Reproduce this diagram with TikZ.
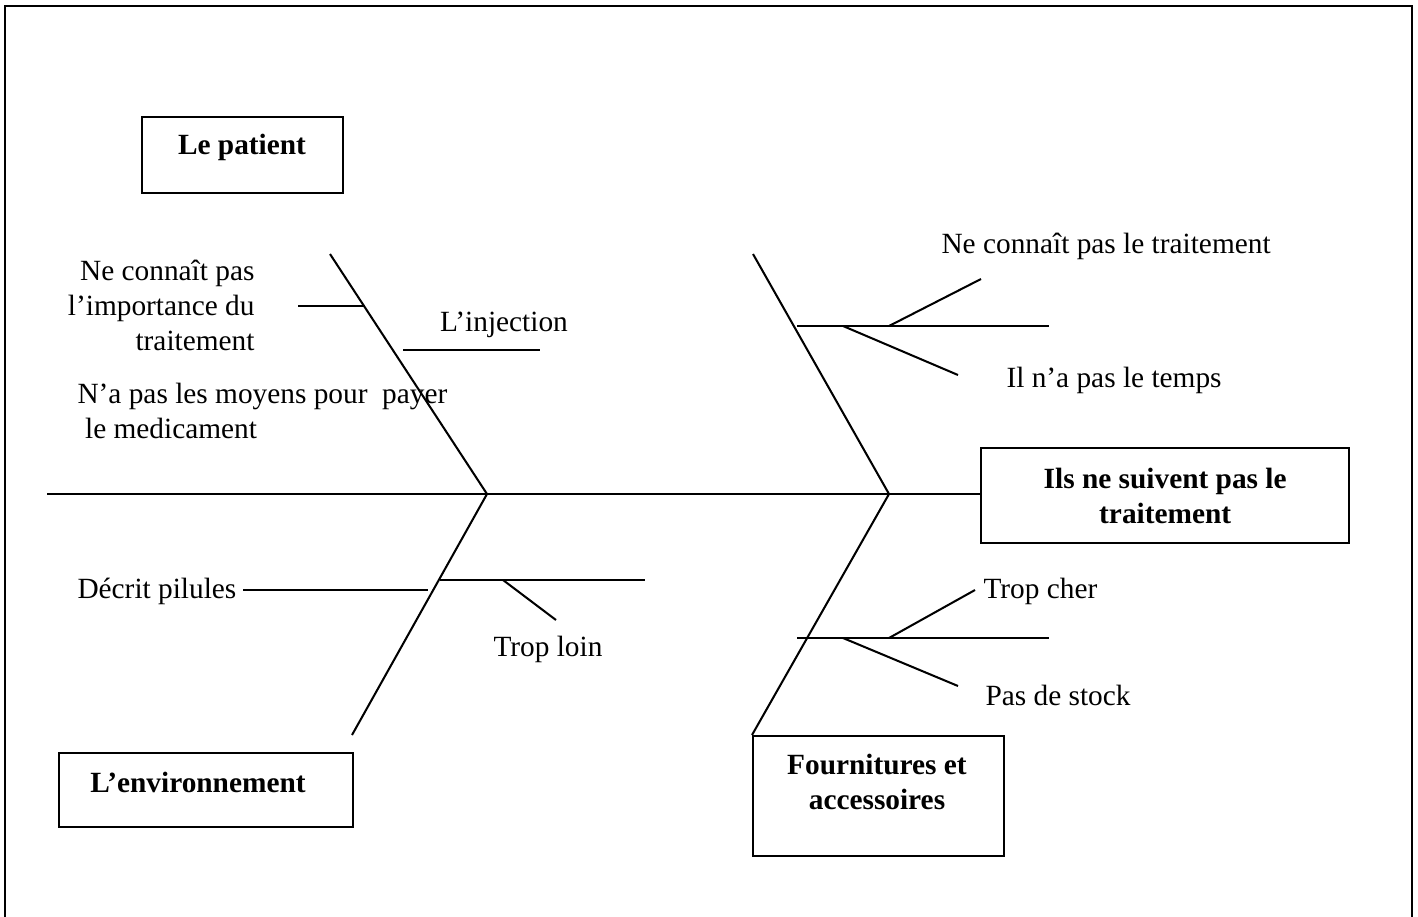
\documentclass[tikz,border=0pt]{standalone}
\usepackage{fontspec}
\setmainfont{Liberation Serif}
\usetikzlibrary{calc}
\begin{document}
\begin{tikzpicture}[x=0.3937pt,y=-0.3937pt,
  box/.style={draw, line width=0.9pt, inner sep=0, anchor=north west},
  txt/.style={inner sep=0, font=\fontsize{11.55}{13.8}\selectfont},
  btxt/.style={inner sep=0, font=\fontsize{11.55}{13.8}\selectfont\bfseries, align=center},
  bone/.style={line width=0.8pt}]
\useasboundingbox (0,0) rectangle (1418,916);
\draw[line width=0.9pt] (5,930) -- (5,6) -- (1412,6) -- (1412,930);

% boxes
\node[box, minimum width=79.13pt, minimum height=29.92pt] (patient) at (141,116) {};
\node[btxt] (patientlbl) at (242,147) {Le patient};
\node[box, minimum width=144.9pt, minimum height=37.4pt, align=center,
      font=\fontsize{11.55}{13.8}\selectfont\bfseries] (effect) at (980,447) {Ils ne suivent pas le\\traitement};
\node[box, minimum width=115.7pt, minimum height=29.1pt] (env) at (58,752) {};
\node[btxt] (envlbl) at (198,782) {L’environnement};
\node[box, minimum width=98.8pt, minimum height=47.2pt] (fourn) at (752,735) {};
\node[btxt] (fournlbl) at (877,782) {Fournitures et\\accessoires};

% spine and bones
\coordinate (tail) at (47,494);
\coordinate (mid) at (487,494);
\coordinate (head) at (889,494);
\coordinate (ulend) at (330,254);
\coordinate (llend) at (352,735);
\coordinate (urend) at (753,254);
\draw[bone] (tail) -- (mid) -- (head) -- (head -| effect.west);
\draw[bone] (ulend) -- (mid);
\draw[bone] (mid) -- (llend);
\draw[bone] (urend) -- (head);
\draw[bone] (head) -- (fourn.north west);

% sub-branches
\coordinate (a1) at (298,306); \coordinate (a2) at (365,306);
\coordinate (b1) at (403,350); \coordinate (b2) at (540,350);
\draw[bone] (a1) -- (a2);
\draw[bone] (b1) -- (b2);
\coordinate (c1) at (797,326); \coordinate (c2) at (1049,326);
\coordinate (c3) at (889,326); \coordinate (c4) at (981,279);
\coordinate (c5) at (843,326); \coordinate (c6) at (958,375);
\draw[bone] (c1) -- (c2);
\draw[bone] (c3) -- (c4);
\draw[bone] (c5) -- (c6);
\coordinate (d1) at (243,590); \coordinate (d2) at (428,590);
\coordinate (e1) at (440,580); \coordinate (e2) at (645,580);
\coordinate (e3) at (503,580); \coordinate (e4) at (556,620);
\draw[bone] (d1) -- (d2);
\draw[bone] (e1) -- (e2);
\draw[bone] (e3) -- (e4);
\coordinate (f1) at (797,638); \coordinate (f2) at (1049,638);
\coordinate (f3) at (889,638); \coordinate (f4) at (975,590);
\coordinate (f5) at (843,638); \coordinate (f6) at (958,686);
\draw[bone] (f1) -- (f2);
\draw[bone] (f3) -- (f4);
\draw[bone] (f5) -- (f6);

% labels
\node[txt, align=right, anchor=east] (t1) at (255,305) {Ne connaît pas\\l’importance du\\traitement};
\node[txt, anchor=base] (t2) at (504,331) {L’injection};
\node[txt, align=left, anchor=west] (t3) at (77,411) {N’a pas les moyens pour\ \ payer\\\hspace{3pt}le medicament};
\node[txt, anchor=base west] (t4) at (941,253) {Ne connaît pas le traitement};
\node[txt, anchor=base west] (t5) at (1006,387) {Il n’a pas le temps};
\node[txt, anchor=base west] (t6) at (77,598) {Décrit pilules};
\node[txt, anchor=base west] (t7) at (493,656) {Trop loin};
\node[txt, anchor=base west] (t8) at (983,598) {Trop cher};
\node[txt, anchor=base west] (t9) at (985,705) {Pas de stock};
\end{tikzpicture}
\end{document}
